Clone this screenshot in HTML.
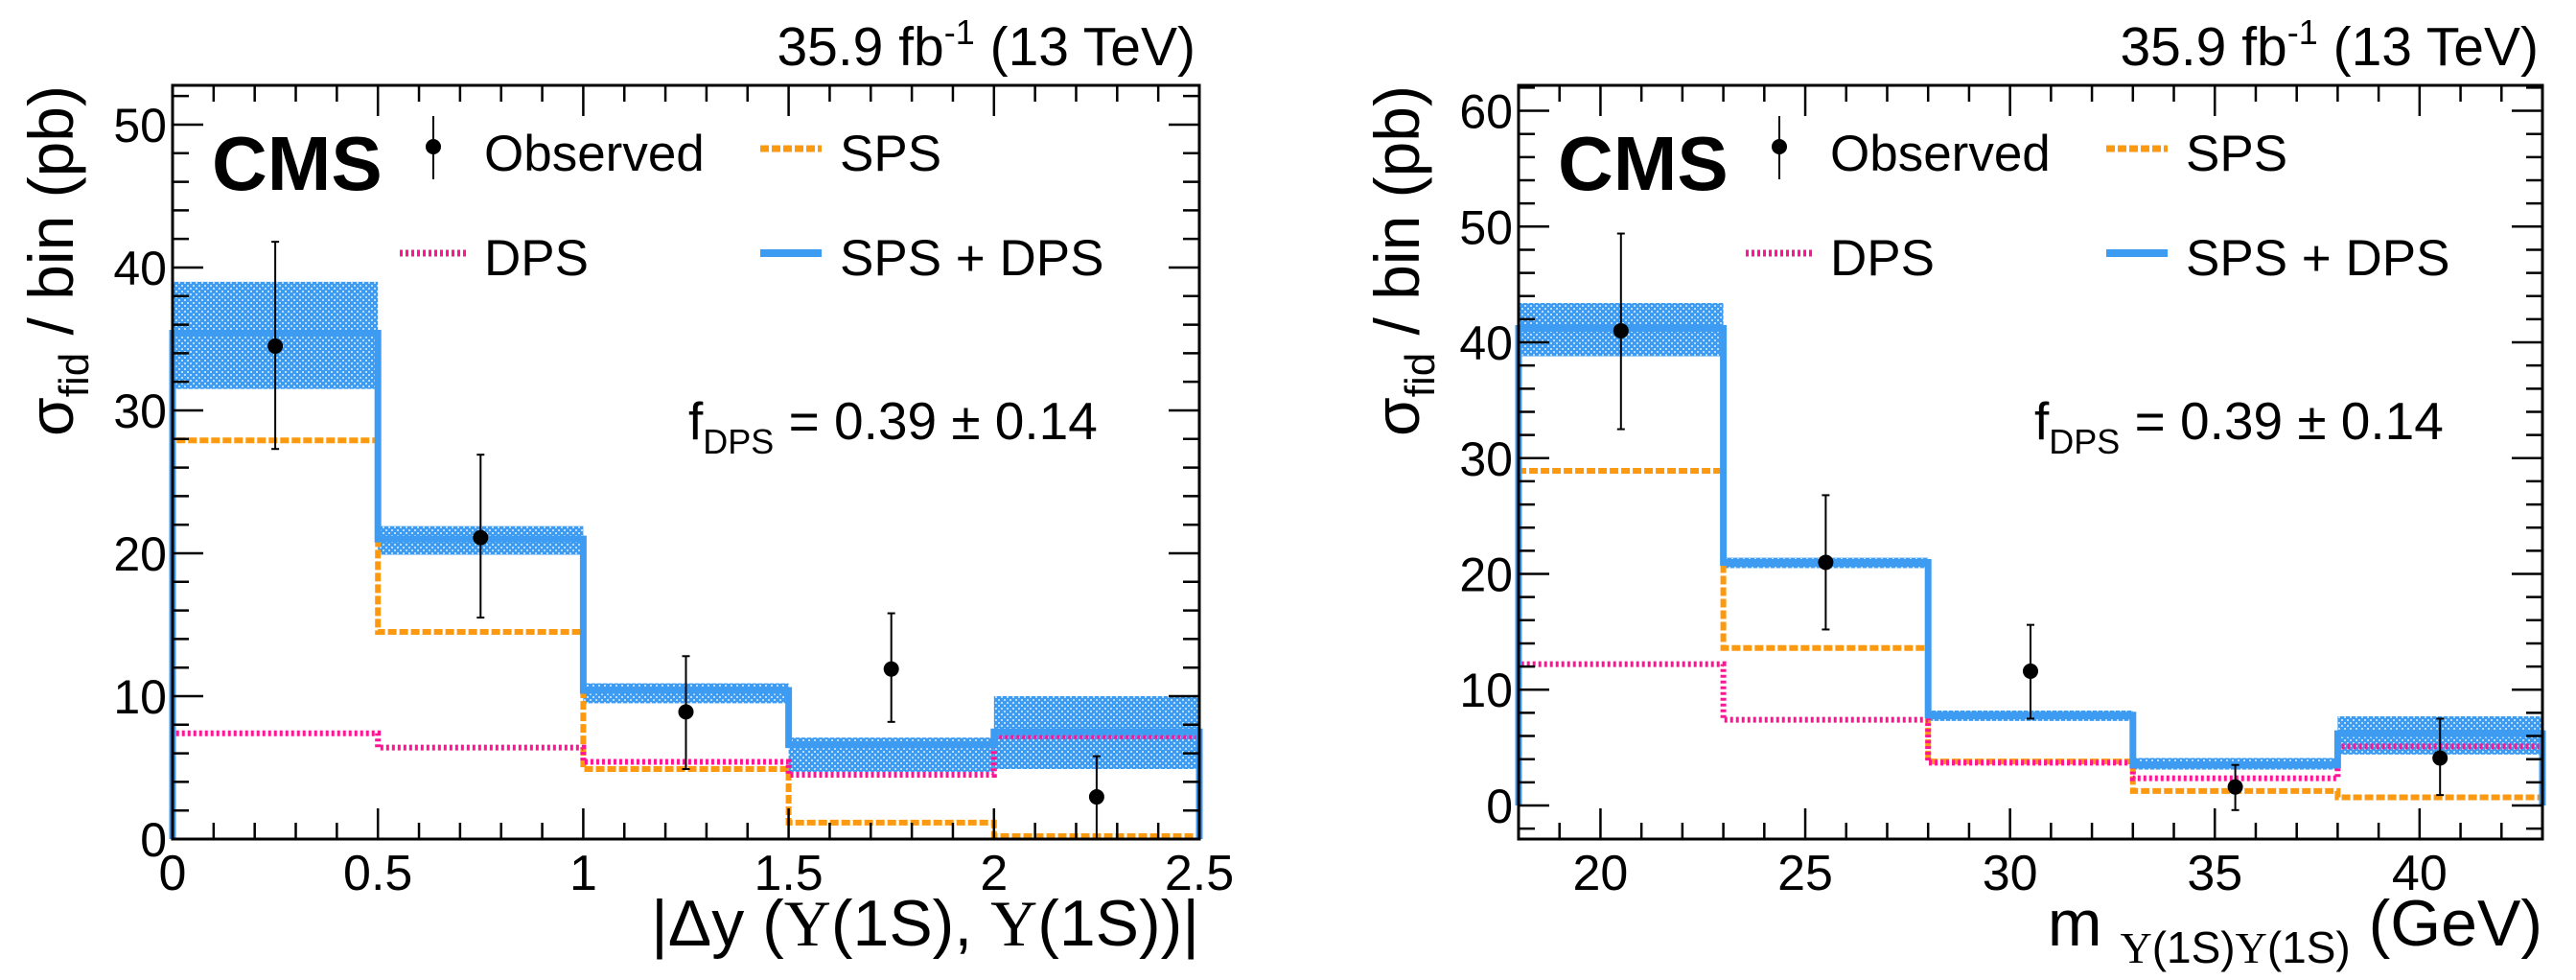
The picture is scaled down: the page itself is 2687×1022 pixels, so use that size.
<!DOCTYPE html>
<html><head><meta charset="utf-8">
<style>
html,body{margin:0;padding:0;background:#fff;}
svg{display:block;}
text{font-family:"Liberation Sans",Arial,sans-serif;fill:#000;}
</style></head>
<body>
<svg id="fig" width="2687" height="1022" viewBox="0 0 2687 1022" xmlns="http://www.w3.org/2000/svg">
<defs>
<pattern id="hatch" width="6" height="6" patternUnits="userSpaceOnUse">
<rect width="6" height="6" fill="#3d9cf2"/>
<rect x="0" y="0" width="2" height="2" fill="#b9dcfb"/>
<rect x="3" y="3" width="2" height="2" fill="#b9dcfb"/>
</pattern>
</defs>
<g id="p1"></g>
<g id="p2"></g>
</svg>
<script>
// ---- Left panel data (|Δy|) ----
const dyEdges = [0, 0.5, 1, 1.5, 2, 2.5];
const dyCenters = [0.25, 0.75, 1.25, 1.75, 2.25];
const dyTotal = [35.4, 21.0, 10.4, 6.6, 7.5];
const dyBandHi = [39.0, 21.9, 10.9, 7.1, 10.0];
const dyBandLo = [31.5, 19.9, 9.5, 4.7, 4.9];
const dySPS = [27.9, 14.5, 4.9, 1.15, 0.2];
const dyDPS = [7.4, 6.4, 5.4, 4.5, 7.2];
const dyObs = [34.5, 21.1, 8.9, 11.9, 2.95];
const dyObsHi = [41.8, 26.9, 12.8, 15.8, 5.8];
const dyObsLo = [27.3, 15.5, 4.9, 8.2, 0.0];
const dyXTicks = ["0", "0.5", "1", "1.5", "2", "2.5"];
const dyYTicks = ["0", "10", "20", "30", "40", "50"];
// ---- Right panel data (mass) ----
const mEdges = [18, 23, 28, 33, 38, 43];
const mCenters = [20.5, 25.5, 30.5, 35.5, 40.5];
const mTotal = [41.2, 21.0, 7.8, 3.5, 6.2];
const mBandHi = [43.4, 21.4, 8.2, 4.1, 7.7];
const mBandLo = [38.8, 20.5, 7.3, 3.1, 4.4];
const mSPS = [28.9, 13.6, 3.8, 1.25, 0.7];
const mDPS = [12.2, 7.4, 3.7, 2.35, 5.1];
const mObs = [41.0, 21.0, 11.6, 1.6, 4.1];
const mObsHi = [49.4, 26.8, 15.6, 3.5, 7.5];
const mObsLo = [32.5, 15.2, 7.5, -0.4, 0.9];
const mXTicks = ["20", "25", "30", "35", "40"];
const mYTicks = ["0", "10", "20", "30", "40", "50", "60"];

const NS = "http://www.w3.org/2000/svg";
function mk(parent, tag, attrs, txt) {
  const e = document.createElementNS(NS, tag);
  for (const k in attrs) e.setAttribute(k, attrs[k]);
  if (txt !== undefined) e.textContent = txt;
  parent.appendChild(e);
  return e;
}

function drawPanel(g, cfg) {
  const L = cfg.L, R = cfg.R, T = 89, B = 875;
  const sx = v => L + (v - cfg.xmin) / (cfg.xmax - cfg.xmin) * (R - L);
  const sy = v => B - (v - cfg.ymin) / (cfg.ymax - cfg.ymin) * (B - T);
  const edges = cfg.edges;

  for (let i = 0; i < cfg.total.length; i++) {
    const r = mk(g, "rect", {x: sx(edges[i]), y: sy(cfg.bandHi[i]), width: sx(edges[i+1]) - sx(edges[i]), height: sy(cfg.bandLo[i]) - sy(cfg.bandHi[i]), fill: "url(#hatch)"});
    
    
  }
  function step(vals) {
    let d = "M" + sx(edges[0]) + "," + sy(0);
    for (let i = 0; i < vals.length; i++) {
      d += " L" + sx(edges[i]) + "," + sy(vals[i]) + " L" + sx(edges[i+1]) + "," + sy(vals[i]);
    }
    d += " L" + sx(edges[edges.length-1]) + "," + sy(0);
    return d;
  }
  const sps = mk(g, "path", {d: step(cfg.sps), fill: "none", stroke: "#fb9a10", "stroke-width": 6, "stroke-dasharray": "9,3"});
  
  
  const dps = mk(g, "path", {d: step(cfg.dps), fill: "none", stroke: "#ff1493", "stroke-width": 6, "stroke-dasharray": "3,3"});
  
  
  const tot = mk(g, "path", {d: step(cfg.total), fill: "none", stroke: "#3d9cf2", "stroke-width": 7});
  
  

  for (let i = 0; i < cfg.obs.length; i++) {
    const x = sx(cfg.centers[i]);
    const lo = Math.max(cfg.obsLo[i], cfg.ymin);
    const eb = mk(g, "line", {x1: x, x2: x, y1: sy(cfg.obsHi[i]), y2: sy(lo), stroke: "#000", "stroke-width": 2});
    
    
    for (const v of [cfg.obsHi[i], lo]) {
      const c = mk(g, "line", {x1: x - 4, x2: x + 4, y1: sy(v), y2: sy(v), stroke: "#000", "stroke-width": 2});
      
      
    }
    const p = mk(g, "circle", {cx: x, cy: sy(cfg.obs[i]), r: 8, fill: "#000"});
    
    
  }

  const fr = mk(g, "rect", {x: L, y: T, width: R - L, height: B - T, fill: "none", stroke: "#000", "stroke-width": 3});
  
  

  for (let v = cfg.xmin; v <= cfg.xmax + 1e-9; v += cfg.xMinor) {
    const vv = Math.round(v * 1000) / 1000;
    const major = Math.abs(vv / cfg.xMajor - Math.round(vv / cfg.xMajor)) < 1e-6;
    const len = major ? 32 : 17;
    const x = sx(vv);
    const t1 = mk(g, "line", {x1: x, x2: x, y1: B, y2: B - len, stroke: "#000", "stroke-width": 2.5});
    
    
    const t2 = mk(g, "line", {x1: x, x2: x, y1: T, y2: T + len, stroke: "#000", "stroke-width": 2.5});
    
    
  }
  for (let i = 0; i < cfg.xTicks.length; i++) {
    const v = parseFloat(cfg.xTicks[i]);
    const t = mk(g, "text", {x: sx(v), y: 928, "font-size": 52, "text-anchor": "middle"}, cfg.xTicks[i]);
    
    
  }
  for (let v = Math.ceil(cfg.ymin / cfg.yMinor) * cfg.yMinor; v <= cfg.ymax; v += cfg.yMinor) {
    const major = Math.abs(v / 10 - Math.round(v / 10)) < 1e-6;
    const len = major ? 32 : 17;
    const y = sy(v);
    const t1 = mk(g, "line", {x1: L, x2: L + len, y1: y, y2: y, stroke: "#000", "stroke-width": 2.5});
    
    
    const t2 = mk(g, "line", {x1: R, x2: R - len, y1: y, y2: y, stroke: "#000", "stroke-width": 2.5});
    
    
  }
  for (let i = 0; i < cfg.yTicks.length; i++) {
    const v = parseFloat(cfg.yTicks[i]);
    const t = mk(g, "text", {x: L - 6, y: sy(v) + 18, "font-size": 50, "text-anchor": "end"}, cfg.yTicks[i]);
    
    
  }

  const lumi = mk(g, "text", {x: R - 4, y: 68, "font-size": 57, "text-anchor": "end"});
  
  
  lumi.innerHTML = '35.9 fb<tspan dy="-22" font-size="36">-1</tspan><tspan dy="22"> (13 TeV)</tspan>';

  const cms = mk(g, "text", {x: L + 41, y: 198, "font-size": 80, "font-weight": "bold"}, "CMS");
  
  

  const o = L - 180;
  const lg = mk(g, "g", {});
  
  
  mk(lg, "line", {x1: o + 452, x2: o + 452, y1: 121, y2: 187, stroke: "#000", "stroke-width": 2});
  mk(lg, "circle", {cx: o + 452, cy: 153, r: 8, fill: "#000"});
  const e1 = mk(lg, "text", {x: o + 505, y: 178, "font-size": 53}, "Observed");
  
  
  mk(lg, "line", {x1: o + 793, x2: o + 857, y1: 155, y2: 155, stroke: "#fb9a10", "stroke-width": 7, "stroke-dasharray": "9,3"});
  const e2 = mk(lg, "text", {x: o + 876, y: 178, "font-size": 53}, "SPS");
  
  
  mk(lg, "line", {x1: o + 417, x2: o + 486, y1: 264, y2: 264, stroke: "#ff1493", "stroke-width": 7, "stroke-dasharray": "3,3"});
  const e3 = mk(lg, "text", {x: o + 505, y: 287, "font-size": 53}, "DPS");
  
  
  mk(lg, "line", {x1: o + 793, x2: o + 857, y1: 264, y2: 264, stroke: "#3d9cf2", "stroke-width": 8});
  const e4 = mk(lg, "text", {x: o + 876, y: 287, "font-size": 53}, "SPS + DPS");
  
  

  const f = mk(g, "text", {x: o + 718, y: 458, "font-size": 55});
  
  
  f.innerHTML = 'f<tspan dy="15" font-size="36">DPS</tspan><tspan dy="-15"> = 0.39 ± 0.14</tspan>';

  const yt = mk(g, "text", {x: 0, y: 0, "font-size": 66, "text-anchor": "end", transform: "translate(" + (L - 104) + "," + T + ") rotate(-90)"});
  
  
  yt.innerHTML = 'σ<tspan dy="16" font-size="44">fid</tspan><tspan dy="-16"> / bin (pb)</tspan>';

  const xt = mk(g, "text", {x: R, y: 986, "font-size": 68, "text-anchor": "end"});
  
  
  xt.innerHTML = cfg.xTitle;
}

drawPanel(document.getElementById("p1"), {
  L: 180, R: 1251, xmin: 0, xmax: 2.5, ymin: 0, ymax: 52.75, xMajor: 0.5, xMinor: 0.1, yMinor: 2,
  edges: dyEdges, centers: dyCenters, total: dyTotal, bandHi: dyBandHi, bandLo: dyBandLo,
  sps: dySPS, dps: dyDPS, obs: dyObs, obsHi: dyObsHi, obsLo: dyObsLo, xTicks: dyXTicks, yTicks: dyYTicks,
  xTitle: '|Δy (<tspan font-family="Liberation Serif">Υ</tspan>(1S), <tspan font-family="Liberation Serif">Υ</tspan>(1S))|'
});
drawPanel(document.getElementById("p2"), {
  L: 1584, R: 2652, xmin: 18, xmax: 43, ymin: -2.9, ymax: 62.2, xMajor: 5, xMinor: 1, yMinor: 2,
  edges: mEdges, centers: mCenters, total: mTotal, bandHi: mBandHi, bandLo: mBandLo,
  sps: mSPS, dps: mDPS, obs: mObs, obsHi: mObsHi, obsLo: mObsLo, xTicks: mXTicks, yTicks: mYTicks,
  xTitle: 'm <tspan dy="18" font-size="46"><tspan font-family="Liberation Serif">Υ</tspan>(1S)<tspan font-family="Liberation Serif">Υ</tspan>(1S)</tspan><tspan dy="-18"> (GeV)</tspan>'
});
</script>
</body></html>
